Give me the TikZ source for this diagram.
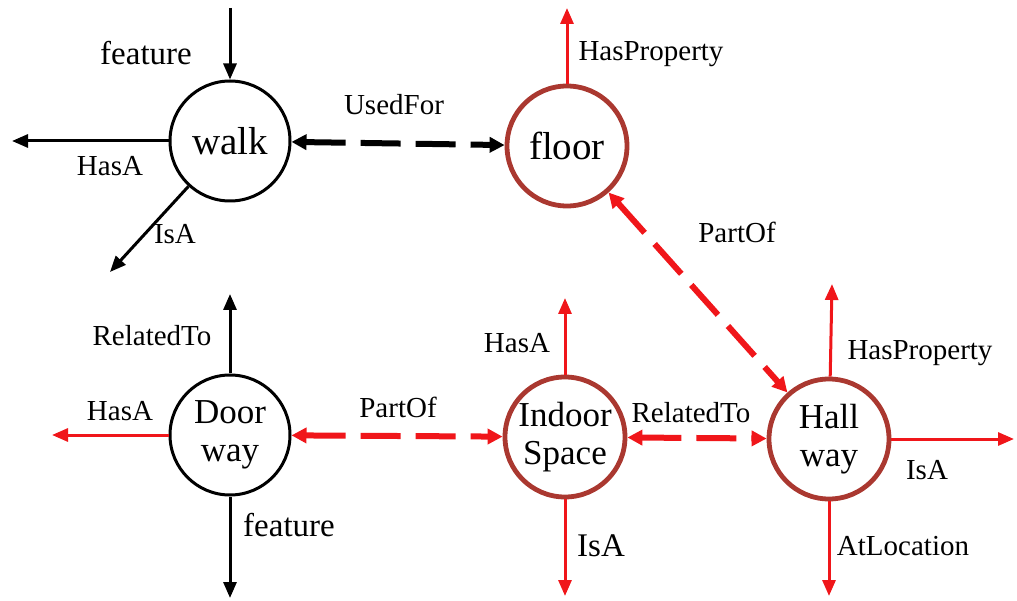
\documentclass[tikz,border=0pt]{standalone}
\usepackage{fontspec}
\setmainfont{Liberation Serif}
\usetikzlibrary{arrows.meta}
\definecolor{relred}{RGB}{240,22,26}
\definecolor{nodebrown}{RGB}{170,56,48}
\tikzset{
  concept/.style={circle, draw, inner sep=0pt, minimum size=120pt, align=center,
    font=\fontsize{35}{38}\selectfont},
  plainconcept/.style={concept, draw=black, line width=3pt},
  keyconcept/.style={concept, draw=nodebrown, line width=4.8pt},
  bigword/.style={font=\fontsize{39}{42}\selectfont},
  rel/.style={line width=3pt, -{Triangle[length=16pt,width=13pt]}},
  blackrel/.style={rel, draw=black},
  redrel/.style={rel, draw=relred},
  linkrel/.style={line width=6pt, dash pattern=on 40pt off 15pt,
    {Triangle[length=15pt,width=15pt]}-{Triangle[length=15pt,width=15pt]}},
  lbl/.style={inner sep=0pt, font=\fontsize{29}{31}\selectfont},
  biglbl/.style={inner sep=0pt, font=\fontsize{33}{35}\selectfont}
}
\begin{document}
\begin{tikzpicture}[x=1pt, y=-1pt]
  \useasboundingbox (0,0) rectangle (1017,601);

  % concepts
  \node[plainconcept, bigword] (walk)  at (230,141) {walk};
  \node[keyconcept, bigword]   (floor) at (567,146) {floor};
  \node[plainconcept] (door)   at (230,435) {Door\\way};
  \node[keyconcept]   (indoor) at (565,437) {Indoor\\Space};
  \node[keyconcept]   (hall)   at (829,439) {Hall\\way};

  % free ends of the one-sided relations
  \coordinate (walkIn)     at (230,8);
  \coordinate (walkHasA)   at (12,141);
  \coordinate (walkIsA)    at (110,272);
  \coordinate (floorProp)  at (567,8);
  \coordinate (doorRel)    at (230,294);
  \coordinate (doorHasA)   at (52,435);
  \coordinate (doorFeat)   at (230,598);
  \coordinate (indoorHasA) at (565,298);
  \coordinate (indoorIsA)  at (565,596);
  \coordinate (hallProp)   at (832,284);
  \coordinate (hallIsA)    at (1014,439);
  \coordinate (hallLoc)    at (829,596);

  % walk
  \draw[blackrel] (walkIn) -- (walk);
  \draw[blackrel] (walk) -- (walkHasA);
  \draw[blackrel] (walk) -- (walkIsA);
  \node[biglbl] (lFeatTop)  at (146,53)  {feature};
  \node[lbl]    (lWalkHasA) at (110,166) {HasA};
  \node[lbl]    (lWalkIsA)  at (175,234) {IsA};

  % floor
  \draw[redrel] (floor) -- (floorProp);
  \node[lbl] (lFloorProp) at (651,54) {HasProperty};

  % door way
  \draw[blackrel] (door) -- (doorRel);
  \draw[redrel]   (door) -- (doorHasA);
  \draw[blackrel] (door) -- (doorFeat);
  \node[lbl]    (lDoorRel)  at (152,336) {RelatedTo};
  \node[lbl]    (lDoorHasA) at (120,411) {HasA};
  \node[biglbl] (lDoorFeat) at (289,525) {feature};

  % indoor space
  \draw[redrel] (indoor) -- (indoorHasA);
  \draw[redrel] (indoor) -- (indoorIsA);
  \node[lbl]    (lIndHasA) at (517,343) {HasA};
  \node[biglbl] (lIndIsA)  at (601,546) {IsA};

  % hall way
  \draw[redrel] (hall) -- (hallProp);
  \draw[redrel] (hall) -- (hallIsA);
  \draw[redrel] (hall) -- (hallLoc);
  \node[lbl] (lHallProp) at (920,353) {HasProperty};
  \node[lbl] (lHallIsA)  at (927,470) {IsA};
  \node[lbl] (lHallLoc)  at (903,546) {AtLocation};

  % links between concepts
  \draw[linkrel, draw=black]  (walk) -- (floor);
  \draw[linkrel, draw=relred] (floor) -- (hall);
  \draw[linkrel, draw=relred] (door) -- (indoor);
  \draw[linkrel, draw=relred] (indoor) -- (hall);
  \node[lbl] (lUsed)      at (394,105) {UsedFor};
  \node[lbl] (lPartFloor) at (737,232) {PartOf};
  \node[lbl] (lPartDoor)  at (398,407) {PartOf};
  \node[lbl] (lRelInd)    at (691,413) {RelatedTo};
\end{tikzpicture}
\end{document}
